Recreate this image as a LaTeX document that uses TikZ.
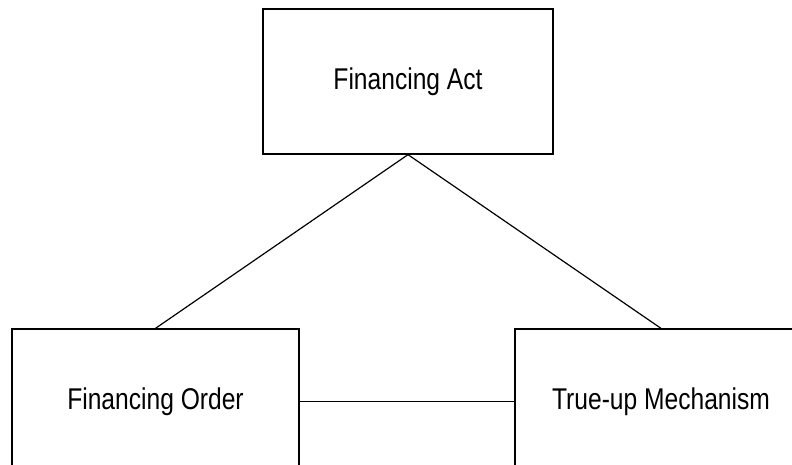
\documentclass[tikz,border=0pt]{standalone}
\usepackage{fontspec}
\usepackage{graphicx}
\setmainfont{Liberation Sans}
\newcommand{\narrowtxt}[1]{\scalebox{0.82}[1]{#1}}
\begin{document}
\begin{tikzpicture}[x=1pt,y=1pt,
  boxstyle/.style={draw=black, line width=1.3pt, fill=white, rectangle, inner sep=0pt,
    font=\fontsize{30}{35}\selectfont},
  linkstyle/.style={draw=black, line width=1.2pt}]
\useasboundingbox (0,0) rectangle (792,465);
\clip (0,0) rectangle (792,465);
\fill[white] (0,0) rectangle (792,465);
\node[boxstyle, minimum width=290pt, minimum height=145pt] (act) at (408,383.5) {\narrowtxt{Financing Act}};
\node[boxstyle, minimum width=287pt, minimum height=145pt] (order) at (155.5,63.5) {\narrowtxt{Financing Order}};
\node[boxstyle, minimum width=292pt, minimum height=145pt] (trueup) at (661,63.5) {\narrowtxt{True-up Mechanism}};
\draw[linkstyle] (act.south) -- (order.north);
\draw[linkstyle] (act.south) -- (trueup.north);
\draw[linkstyle] (order.east) -- (trueup.west);
\end{tikzpicture}
\end{document}
